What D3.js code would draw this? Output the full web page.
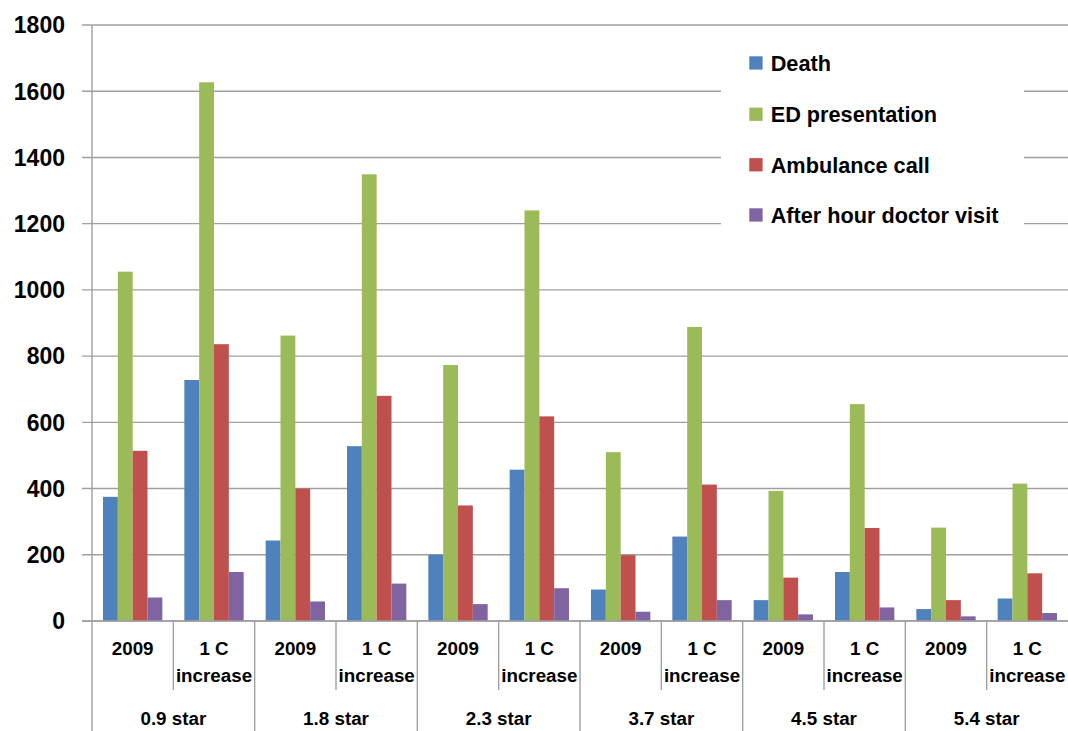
<!DOCTYPE html>
<html>
<head>
<meta charset="utf-8">
<script src="https://cdn.jsdelivr.net/npm/d3@7"></script>
<style>
  html, body { margin: 0; padding: 0; background: #fff; }
  svg { display: block; }
  text { font-family: "Liberation Sans", Arial, sans-serif; font-weight: bold; fill: #000; }
</style>
</head>
<body>
<svg id="chart" width="1068" height="731"></svg>
<script>
// ---- Data ----
const groups = ["0.9 star", "1.8 star", "2.3 star", "3.7 star", "4.5 star", "5.4 star"];
const scenarios = ["2009", "1 C increase"];
const seriesNames = ["Death", "ED presentation", "Ambulance call", "After hour doctor visit"];
const seriesColors = ["#4F81BD", "#9BBB59", "#C0504D", "#8064A2"];
// values per subcategory (group x scenario), in order
const death      = [375, 728, 243, 528, 200, 457,  95, 255,  63, 148,  36,  68];
const edPresent  = [1055, 1627, 862, 1349, 773, 1240, 510, 888, 393, 655, 282, 415];
const ambulance  = [514, 836, 400, 680, 349, 618, 199, 412, 131, 281,  63, 144];
const afterHour  = [ 71, 148,  59, 113,  51,  99,  28,  63,  20,  41,  14,  24];
const yTicks = [0, 200, 400, 600, 800, 1000, 1200, 1400, 1600, 1800];

const seriesValues = [death, edPresent, ambulance, afterHour];

// ---- Layout ----
const svg = d3.select("#chart");
const plotLeft = 92, plotRight = 1068, plotTop = 25, plotBottom = 621;

const subcats = [];
groups.forEach(g => scenarios.forEach(s => subcats.push(g + "|" + s)));

const x = d3.scaleBand().domain(subcats).range([plotLeft, plotRight]).paddingInner(0).paddingOuter(0);
const bw = x.bandwidth();
const xInner = d3.scaleBand().domain(seriesNames).range([11, bw - 11]).padding(0);
const y = d3.scaleLinear().domain([0, 1800]).range([plotBottom, plotTop]);

const gridColor = "#a0a0a0";

// gridlines
svg.append("g").selectAll("line").data(yTicks).join("line")
  .attr("x1", plotLeft - 10).attr("x2", plotRight)
  .attr("y1", d => y(d)).attr("y2", d => y(d))
  .attr("stroke", gridColor).attr("stroke-width", 1.4);

// y tick labels
svg.append("g").selectAll("text").data(yTicks).join("text")
  .attr("x", 65).attr("y", d => y(d)).attr("dy", "0.36em")
  .attr("text-anchor", "end").style("font-size", "23px")
  .text(d => d);

// bars
const rows = [];
subcats.forEach((sc, i) => {
  seriesNames.forEach((sn, j) => rows.push({ sc, sn, v: seriesValues[j][i], c: seriesColors[j] }));
});
svg.append("g").selectAll("rect").data(rows).join("rect")
  .attr("x", d => x(d.sc) + xInner(d.sn))
  .attr("width", xInner.bandwidth())
  .attr("y", d => y(d.v))
  .attr("height", d => y(0) - y(d.v))
  .attr("fill", d => d.c);

// axis lines
svg.append("line").attr("x1", plotLeft).attr("x2", plotLeft).attr("y1", plotTop).attr("y2", 731)
  .attr("stroke", gridColor).attr("stroke-width", 1.4);
svg.append("line").attr("x1", plotLeft - 10).attr("x2", plotRight).attr("y1", y(0)).attr("y2", y(0))
  .attr("stroke", gridColor).attr("stroke-width", 1.4);

// subcategory separators
subcats.forEach((sc, i) => {
  if (i === 0) return;
  const xx = x(sc);
  const isGroup = i % scenarios.length === 0;
  svg.append("line").attr("x1", xx).attr("x2", xx)
    .attr("y1", y(0)).attr("y2", isGroup ? 731 : 690)
    .attr("stroke", gridColor).attr("stroke-width", 1.4);
});

// subcategory labels
subcats.forEach(sc => {
  const s = sc.split("|")[1];
  const cx = x(sc) + bw / 2;
  const t = svg.append("text").attr("x", cx).attr("text-anchor", "middle").style("font-size", "18.8px");
  if (s === "2009") {
    t.attr("y", 655).text(s);
  } else {
    t.append("tspan").attr("x", cx).attr("y", 655).text("1 C");
    t.append("tspan").attr("x", cx).attr("y", 682).text("increase");
  }
});

// group labels
groups.forEach(g => {
  const x0 = x(g + "|" + scenarios[0]);
  svg.append("text").attr("x", x0 + bw).attr("y", 725)
    .attr("text-anchor", "middle").style("font-size", "18.8px").text(g);
});

// legend
const lg = svg.append("g");
lg.append("rect").attr("x", 721).attr("y", 38).attr("width", 303).attr("height", 200).attr("fill", "#fff");
const legendY = [63, 114.3, 164.8, 215];
seriesNames.forEach((n, i) => {
  lg.append("rect").attr("x", 749.3).attr("y", legendY[i] - 6.7).attr("width", 13.3).attr("height", 13.3)
    .attr("fill", seriesColors[i]);
  lg.append("text").attr("x", 770.7).attr("y", legendY[i]).attr("dy", "0.36em")
    .style("font-size", "21.7px").text(n);
});
</script>
</body>
</html>
